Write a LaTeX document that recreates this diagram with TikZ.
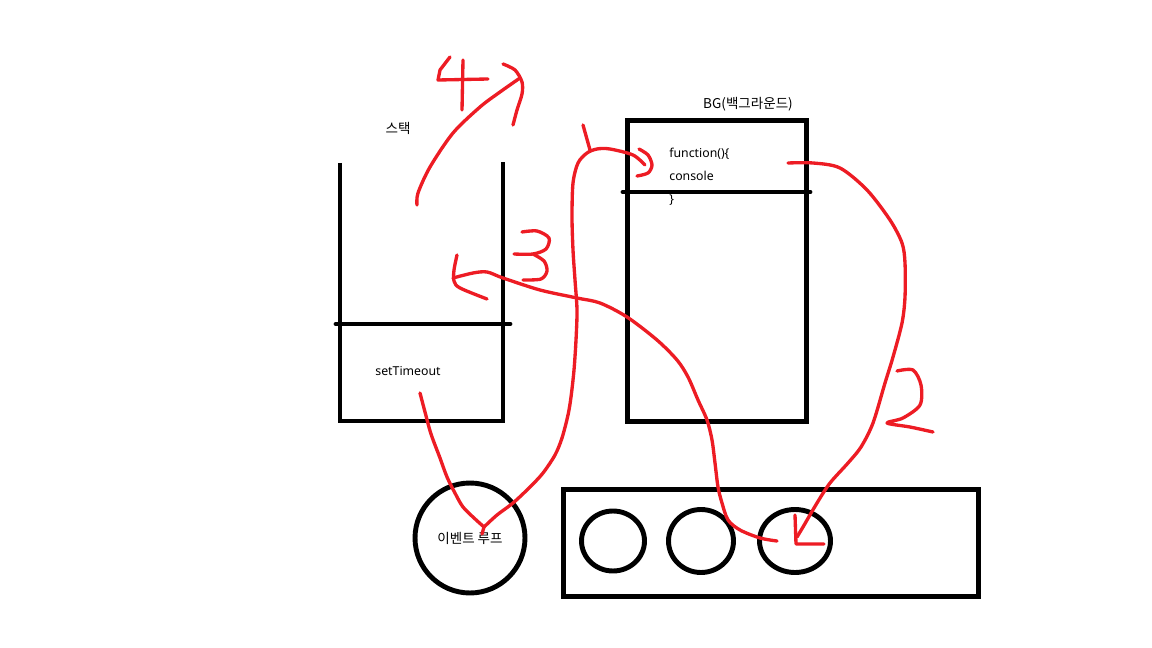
\documentclass[tikz,border=0pt]{standalone}
\usepackage{fontspec}
\setmainfont{Noto Sans}
\newfontfamily\kr{Noto Sans CJK KR}
\usetikzlibrary{positioning}
\usetikzlibrary{shapes.geometric}
\definecolor{penred}{HTML}{ED1C24}

\begin{document}
\begin{tikzpicture}[x=0.02cm, y=-0.02cm]
	\tikzstyle{wall}=[line width=2.8pt, draw=black]
	\tikzstyle{ring}=[ellipse, line width=2.8pt, draw=black, inner sep=0pt]
	\tikzstyle{lbl}=[font=\fontsize{7}{8.5}\selectfont, inner sep=0pt]
	\tikzstyle{krlbl}=[font=\kr\fontsize{7.7}{9}\selectfont, inner sep=0pt]
	\tikzstyle{pen}=[line width=1.9pt, draw=penred, line cap=round, line join=round]
	
	\useasboundingbox (0,0) rectangle (1152,648);
	
	% stack
	\draw[wall] (340,163) -- (340,421) -- (503,421) -- (503,162);
	\draw[wall, line cap=round] (336,324) -- (510,324);
	\node[krlbl] (stk) at (398,128) {스택};
	\node[lbl, anchor=base] (st) at (408,376) {setTimeout};
	
	% background
	\node[wall, rectangle, minimum width=3.57cm, minimum height=6.02cm] (bg) at (717,271) {};
	\draw[wall, line cap=round] (623,192) -- (810,192);
	\node[krlbl] (bgname) at (748,104) {BG(백그라운드)};
	\node[lbl, anchor=base west] (fn) at (669,158) {function()\{};
	\node[lbl, anchor=base west] (cs) at (669,181) {console};
	\node[lbl, anchor=base west] (cb) at (669,204) {\}};
	
	% event loop
	\node[ring, krlbl, minimum width=2.2cm, minimum height=2.2cm] (loop) at (470,538) {이벤트 루프};
	
	% queue
	\node[wall, rectangle, minimum width=8.3cm, minimum height=2.13cm] (queue) at (771,543) {};
	\node[ring, minimum width=1.26cm, minimum height=1.2cm] (q1) at (613,541) {};
	\node[ring, minimum width=1.3cm, minimum height=1.26cm] (q2) at (701,541) {};
	\node[ring, minimum width=1.42cm, minimum height=1.26cm] (q3) at (795,541) {};
	
	\coordinate (stout) at (420,393);
	\coordinate (loopin) at (484,527);
	\coordinate (fnin) at (645,165);
	\coordinate (fnout) at (788,163);
	\coordinate (q3in) at (797,537);
	\coordinate (q3out) at (777,541);
	\coordinate (stin) at (453,278);
	\coordinate (stup) at (417,205);
	\coordinate (top) at (520,78);
	
	% 1
	\draw[pen] plot[smooth] coordinates {(stout) (425,412) (431,434) (440,458) (447,477) (456,495) (463,507) (474,518) (loopin)};
	\draw[pen] plot[smooth] coordinates {(loopin) (482,534)};
	\draw[pen] plot[smooth] coordinates {(loopin) (497,515) (513,503) (530,487) (543,473) (555,455) (562,438) (568,415) (571,397) (574,370) (576,340) (577,310) (575,280) (573,250) (572,217) (573,183) (578,163) (587,153) (597,149) (610,149) (633,155) (fnin)};
	\draw[pen] plot[smooth] coordinates {(639,149) (648,155) (652,165) (648,173) (637,176)};
	\draw[pen] (583,125) -- (590,150);
	
	% 2
	\draw[pen] plot[smooth] coordinates {(fnout) (813,163) (840,168) (867,190) (890,220) (902,243) (905,263) (905,297) (902,323) (893,357) (885,383) (873,423) (861,447) (848,463) (830,483) (817,503) (803,527) (q3in)};
	\draw[pen] (795,515) -- (796,544) -- (824,544);
	\draw[pen] plot[smooth] coordinates {(897,371) (913,370) (921,385) (920,405) (903,418) (887,423) (910,427) (933,432)};
	
	% 3
	\draw[pen] plot[smooth] coordinates {(q3out) (760,538) (740,530) (728,520) (722,503) (718,487) (715,463) (712,440) (707,420) (698,400) (688,377) (677,360) (657,340) (627,317) (600,303) (577,298) (540,290) (503,278) (487,272) (473,273) (stin)};
	\draw[pen] plot[smooth] coordinates {(457,255) (454,270) (454,281) (460,288) (487,299)};
	\draw[pen] plot[smooth] coordinates {(522,232) (537,231) (549,238) (546,249) (533,254) (514,254)};
	\draw[pen] plot[smooth] coordinates {(533,254) (544,261) (547,271) (541,279) (523,280)};
	
	% 4
	\draw[pen] plot[smooth] coordinates {(stup) (418,193) (430,167) (453,133) (480,107) (500,92) (top)};
	\draw[pen] plot[smooth] coordinates {(503,64) (515,70) (522,82) (522,94) (517,110) (513,125)};
	\draw[pen] (450,57) -- (440,70) -- (438,80) -- (488,79);
	\draw[pen] (463,60) -- (462,110);
\end{tikzpicture}
\end{document}
